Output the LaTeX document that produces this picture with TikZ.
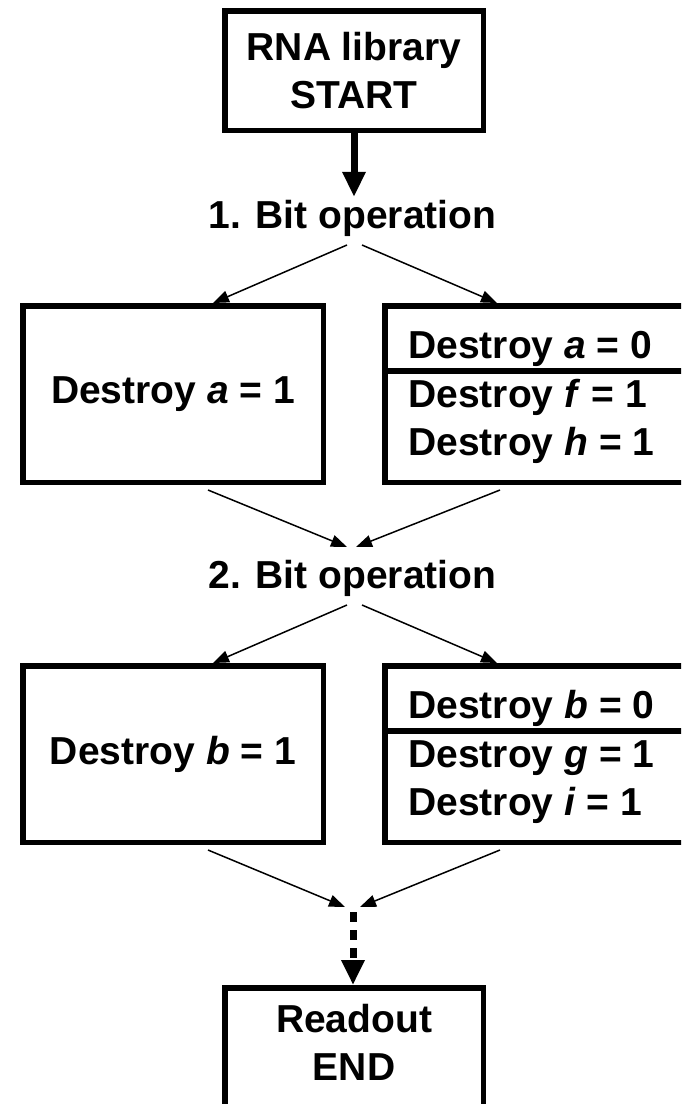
\documentclass[tikz,border=0pt]{standalone}
\usepackage{fontspec}
\setmainfont{Liberation Sans}
\usetikzlibrary{arrows.meta}

\begin{document}
\begin{tikzpicture}[x=0.5pt,y=-0.5pt,line join=miter]
	\tikzstyle{every node}=[font=\fontsize{19.5}{24}\selectfont\bfseries];
	\tikzstyle{box}=[draw,line width=2.75pt,inner sep=0pt];
	\tikzstyle{op}=[inner sep=1.25pt,anchor=base];
	\tikzstyle{line}=[inner sep=0pt,anchor=base west];
	\tikzstyle{bold}=[line width=3.5pt,-{Triangle[length=12.5pt,width=11pt]}];
	\tikzstyle{fine}=[line width=0.75pt,-{Triangle[length=8pt,width=6pt]}];
	\tikzstyle{sep}=[line width=3.25pt];
	%% Frame
	\clip (0,0) rectangle (681,1104);
	%% Start
	\node[box,minimum width=129.25pt,minimum height=59.75pt,align=center] (start) at (354,70.5) {RNA library\\START};
	\node[op] (op1) at (352.5,228) {1. Bit operation};
	\draw[bold] (start) -- (start |- op1.north);
	%% First bit operation
	\node[box,minimum width=150.25pt,minimum height=88.25pt] (b1l) at (173,394) {Destroy \textit{a} = 1};
	\node[box,anchor=north west,minimum width=200pt,minimum height=88.25pt] (b1r) at (382,303) {};
	\draw[sep] ([yshift=-33.9pt]b1r.north west) -- ([yshift=-33.9pt]b1r.north east);
	\node[line] (a0) at (408,358) {Destroy \textit{a} = 0};
	\node[line] (f1) at (408,407) {Destroy \textit{f} = 1};
	\node[line] (h1) at (408,455) {Destroy \textit{h} = 1};
	\coordinate (o1l) at (347,245);
	\coordinate (o1r) at (362,245);
	\draw[fine] (o1l) -- (b1l.north -| 213,0);
	\draw[fine] (o1r) -- (b1r.north west -| 497,0);
	%% Second bit operation
	\node[op] (op2) at (352.5,588) {2. Bit operation};
	\coordinate (c1l) at (208,490);
	\coordinate (c1r) at (500,490);
	\coordinate (j1l) at (347,547);
	\coordinate (j1r) at (356,547);
	\draw[fine] (c1l) -- (j1l);
	\draw[fine] (c1r) -- (j1r);
	\node[box,minimum width=150.25pt,minimum height=88.25pt] (b2l) at (173,754) {Destroy \textit{b} = 1};
	\node[box,anchor=north west,minimum width=200pt,minimum height=88.25pt] (b2r) at (382,663) {};
	\draw[sep] ([yshift=-33.9pt]b2r.north west) -- ([yshift=-33.9pt]b2r.north east);
	\node[line] (b0) at (408,718) {Destroy \textit{b} = 0};
	\node[line] (g1) at (408,767) {Destroy \textit{g} = 1};
	\node[line] (i1) at (408,815) {Destroy \textit{i} = 1};
	\coordinate (o2l) at (347,605);
	\coordinate (o2r) at (362,605);
	\draw[fine] (o2l) -- (b2l.north -| 213,0);
	\draw[fine] (o2r) -- (b2r.north west -| 497,0);
	%% Readout
	\coordinate (c2l) at (208,850);
	\coordinate (c2r) at (500,850);
	\coordinate (j2l) at (345,907);
	\coordinate (j2r) at (360,907);
	\draw[fine] (c2l) -- (j2l);
	\draw[fine] (c2r) -- (j2r);
	\node[box,anchor=north,minimum width=129.25pt,inner ysep=8.4pt,text depth=60pt,align=center] (readout) at (354,985) {Readout\\END};
	\coordinate (j2) at (353,912);
	\draw[bold,dash pattern=on 5pt off 4pt] (j2) -- (j2 |- readout.north);
\end{tikzpicture}
\end{document}
